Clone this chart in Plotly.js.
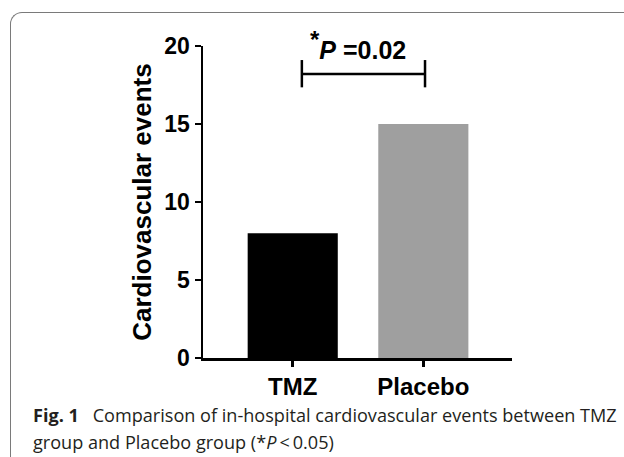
<!DOCTYPE html>
<html>
<head>
<meta charset="utf-8">
<script src="https://cdn.plot.ly/plotly-3.0.1.min.js"></script>
<style>
  html, body { margin: 0; padding: 0; background: #fff; }
  #wrap { position: relative; width: 624px; height: 457px; overflow: hidden; }
  #frame { position: absolute; left: 10px; top: 12px; width: 700px; height: 600px;
           border-top: 1.5px solid #7a7a7a; border-left: 1.5px solid #7a7a7a;
           border-top-left-radius: 12px; box-sizing: border-box; }
  #chart { position: absolute; left: 0; top: 0; width: 624px; height: 457px; }
</style>
</head>
<body>
<div id="wrap">
  <div id="frame"></div>
  <div id="chart"></div>
</div>
<script>
// ---- data ----
const categories = ['TMZ', 'Placebo'];
const events = [8, 15];
const barColors = ['#000000', '#9f9f9f'];
const yTicks = [0, 5, 10, 15, 20];
const pValue = '0.02';
const yTitle = 'Cardiovascular events';
const captionLine1 = '<b>Fig. 1</b>\u2002 Comparison of in-hospital cardiovascular events between TMZ';
const captionLine2 = 'group and Placebo group (*<i>P</i>\u2009&lt;\u20090.05)';

// ---- chart ----
const ARIAL = 'Liberation Sans, Arial, sans-serif';
const CAPFONT = 'Open Sans, Noto Sans, sans-serif';
const trace = {
  type: 'bar',
  x: categories,
  y: events,
  width: 0.69,
  marker: { color: barColors, line: { width: 0 } },
  hoverinfo: 'skip'
};

const bx0 = 0.07, bx1 = 1.013, by = 18.2, bt0 = 17.35, bt1 = 19.1;
const lineStyle = { color: '#000', width: 2.5 };

const layout = {
  width: 624, height: 457,
  margin: { l: 203, r: 112, t: 46, b: 99, pad: 0 },
  paper_bgcolor: 'rgba(0,0,0,0)',
  plot_bgcolor: 'rgba(0,0,0,0)',
  showlegend: false,
  font: { family: ARIAL, color: '#000' },
  xaxis: {
    type: 'category',
    range: [-0.687, 1.679],
    showline: true, linewidth: 2.5, linecolor: '#000',
    ticks: 'outside', ticklen: 6, tickwidth: 2.5, tickcolor: '#000',
    tickfont: { family: ARIAL, size: 24, weight: 'bold', color: '#000' },
    showgrid: false, zeroline: false, fixedrange: true
  },
  yaxis: {
    range: [0, 20],
    tickvals: yTicks,
    ticktext: yTicks.map(String),
    showline: true, linewidth: 2.5, linecolor: '#000',
    ticks: 'outside', ticklen: 6, tickwidth: 2.5, tickcolor: '#000',
    tickfont: { family: ARIAL, size: 23, weight: 'bold', color: '#000' },
    showgrid: false, zeroline: false, fixedrange: true,
    title: { text: yTitle, standoff: 5,
             font: { family: ARIAL, size: 26, weight: 'bold', color: '#000' } }
  },
  shapes: [
    { type: 'line', xref: 'x', yref: 'y', x0: bx0, x1: bx1, y0: by, y1: by, line: lineStyle },
    { type: 'line', xref: 'x', yref: 'y', x0: bx0, x1: bx0, y0: bt0, y1: bt1, line: lineStyle },
    { type: 'line', xref: 'x', yref: 'y', x0: bx1, x1: bx1, y0: bt0, y1: bt1, line: lineStyle }
  ],
  annotations: [
    { xref: 'x', yref: 'paper', x: (bx0 + bx1) / 2 - 0.04, y: 1.003, showarrow: false,
      xanchor: 'center', yanchor: 'middle',
      text: '<sup><span style="font-size:24px">*</span></sup><i>P</i> =' + pValue,
      font: { family: ARIAL, size: 25, weight: 'bold', color: '#000' } },
    { xref: 'paper', yref: 'paper', x: -0.557, y: -0.183, showarrow: false,
      xanchor: 'left', yanchor: 'middle', text: captionLine1,
      font: { family: CAPFONT, size: 18.1, color: '#231f20' } },
    { xref: 'paper', yref: 'paper', x: -0.557, y: -0.27, showarrow: false,
      xanchor: 'left', yanchor: 'middle', text: captionLine2,
      font: { family: CAPFONT, size: 18.1, color: '#231f20' } }
  ]
};

Plotly.newPlot('chart', [trace], layout, { displayModeBar: false, staticPlot: true });
</script>
</body>
</html>
